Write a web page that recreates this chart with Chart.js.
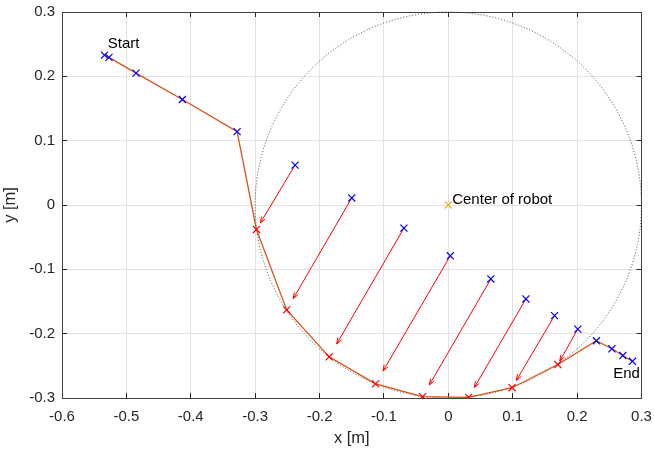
<!DOCTYPE html>
<html>
<head>
<meta charset="utf-8">
<script src="https://cdn.jsdelivr.net/npm/chart.js@4"></script>
<style>
  html, body { margin: 0; padding: 0; background: #fff; }
  #wrap { width: 654px; height: 450px; position: relative; }
</style>
</head>
<body>
<div id="wrap"><canvas id="plot"></canvas></div>
<script>
// --- data ---
const xTicks = [-0.6, -0.5, -0.4, -0.3, -0.2, -0.1, 0, 0.1, 0.2, 0.3];
const xTickLabels = ['-0.6', '-0.5', '-0.4', '-0.3', '-0.2', '-0.1', '0', '0.1', '0.2', '0.3'];
const yTicks = [-0.3, -0.2, -0.1, 0, 0.1, 0.2, 0.3];
const yTickLabels = ['-0.3', '-0.2', '-0.1', '0', '0.1', '0.2', '0.3'];

// path before the robot reaches the circle (blue)
const startX = [-0.534, -0.527, -0.485, -0.413, -0.328];
const startY = [0.233, 0.2295, 0.205, 0.164, 0.114];
// measured points (blue, arrow tails)
const measuredX = [-0.238, -0.150, -0.069, 0.003, 0.066, 0.1205, 0.165, 0.201];
const measuredY = [0.062, 0.011, -0.036, -0.079, -0.115, -0.146, -0.172, -0.193];
// corrected points on the circle (red)
const correctedX = [-0.298, -0.251, -0.185, -0.113, -0.040, 0.0315, 0.099, 0.170];
const correctedY = [-0.038, -0.163, -0.236, -0.278, -0.298, -0.299, -0.284, -0.248];
// path after leaving the circle (blue)
const endX = [0.230, 0.254, 0.271, 0.286];
const endY = [-0.211, -0.2235, -0.234, -0.243];

const robotCenter = [0, 0];
const robotRadius = 0.3;
const quiverScale = 0.9;   // matlab quiver autoscale

const labelTexts = ['Start', 'Center of robot', 'End'];
const labelX = [-0.529, 0.006, 0.256];
const labelY = [0.251, 0.008, -0.263];

const FONT = "'Liberation Sans', Arial, Helvetica, sans-serif";
Chart.defaults.font.family = FONT;
Chart.defaults.color = '#262626';

const pts = (xs, ys) => xs.map((x, i) => ({ x: x, y: ys[i] }));

const pathPts = pts(startX.concat(correctedX, endX), startY.concat(correctedY, endY));

// one dataset per arrow: tail -> scaled head
const arrowSets = measuredX.map((mx, i) => ({
    label: 'arrow' + i,
    data: [
        { x: mx, y: measuredY[i] },
        { x: mx + quiverScale * (correctedX[i] - mx), y: measuredY[i] + quiverScale * (correctedY[i] - measuredY[i]) }
    ],
    showLine: true,
    borderColor: '#ff0000',
    borderWidth: 1,
    pointRadius: 0,
    isArrow: true
}));

const markerStyle = (color) => ({
    showLine: false,
    pointStyle: 'crossRot',
    pointRadius: 5,
    pointBorderWidth: 1.2,
    pointBorderColor: color,
    pointBackgroundColor: color,
    borderColor: color
});

// dotted robot outline + arrow heads + text labels
const extrasPlugin = {
    id: 'extras',
    beforeDatasetsDraw(chart) {
        const { ctx, scales: { x, y } } = chart;
        const cx = x.getPixelForValue(robotCenter[0]);
        const cy = y.getPixelForValue(robotCenter[1]);
        const rx = x.getPixelForValue(robotCenter[0] + robotRadius) - cx;
        const ry = cy - y.getPixelForValue(robotCenter[1] + robotRadius);
        ctx.save();
        ctx.setLineDash([1, 2]);
        ctx.strokeStyle = '#333';
        ctx.lineWidth = 0.9;
        ctx.beginPath();
        ctx.ellipse(cx, cy, rx, ry, 0, 0, Math.PI * 2);
        ctx.stroke();
        ctx.restore();
    },
    afterDatasetsDraw(chart) {
        const { ctx, scales: { x, y } } = chart;
        ctx.save();
        // arrow heads
        ctx.strokeStyle = '#ff0000';
        ctx.lineWidth = 1;
        chart.data.datasets.forEach((ds, i) => {
            if (!ds.isArrow) return;
            const p = chart.getDatasetMeta(i).data;
            const ang = Math.atan2(p[1].y - p[0].y, p[1].x - p[0].x);
            const len = 6.5, spread = 0.35;
            ctx.beginPath();
            ctx.moveTo(p[1].x - len * Math.cos(ang - spread), p[1].y - len * Math.sin(ang - spread));
            ctx.lineTo(p[1].x, p[1].y);
            ctx.lineTo(p[1].x - len * Math.cos(ang + spread), p[1].y - len * Math.sin(ang + spread));
            ctx.stroke();
        });
        // text labels
        ctx.fillStyle = '#000';
        ctx.font = '15px ' + FONT;
        ctx.textAlign = 'left';
        ctx.textBaseline = 'middle';
        labelTexts.forEach((t, i) => {
            ctx.fillText(t, x.getPixelForValue(labelX[i]), y.getPixelForValue(labelY[i]));
        });
        ctx.restore();
    }
};

const gridOpts = { color: '#e3e3e3', lineWidth: 1, tickColor: '#262626', tickLength: -5, drawTicks: true };
const borderOpts = { color: '#404040', width: 1 };

// fixed axes box, no extra label overhang padding
const fixBox = (w, h) => ax => {
    if (w !== null) ax.width = w;
    if (h !== null) ax.height = h;
    ax.paddingLeft = 0; ax.paddingRight = 0; ax.paddingTop = 0; ax.paddingBottom = 0;
};

new Chart(document.getElementById('plot'), {
    type: 'scatter',
    data: {
        datasets: [
            { label: 'path', data: pathPts, showLine: true, borderColor: '#D95319', borderWidth: 1.3, pointRadius: 0, order: 5 },
            ...arrowSets.map(a => Object.assign(a, { order: 4 })),
            Object.assign({ label: 'start', data: pts(startX, startY), order: 1 }, markerStyle('#0000ff')),
            Object.assign({ label: 'measured', data: pts(measuredX, measuredY), order: 1 }, markerStyle('#0000ff')),
            Object.assign({ label: 'end', data: pts(endX, endY), order: 1 }, markerStyle('#0000ff')),
            Object.assign({ label: 'corrected', data: pts(correctedX, correctedY), order: 1 }, markerStyle('#ff0000')),
            Object.assign({ label: 'center', data: [{ x: robotCenter[0], y: robotCenter[1] }], order: 1 }, markerStyle('#EDB120'))
        ]
    },
    options: {
        responsive: true,
        maintainAspectRatio: false,
        animation: false,
        layout: { padding: 0 },
        plugins: { legend: { display: false }, tooltip: { enabled: false } },
        scales: {
            x: {
                type: 'linear', position: 'bottom', min: -0.6, max: 0.3,
                afterBuildTicks: ax => { ax.ticks = xTicks.map(v => ({ value: v })); },
                afterFit: fixBox(null, 52),
                ticks: { callback: (v, i) => xTickLabels[i], font: { size: 15 }, padding: 15, maxRotation: 0 },
                grid: gridOpts, border: borderOpts,
                title: { display: true, text: 'x [m]', font: { size: 16.5 }, padding: { top: 0, bottom: 2 } }
            },
            y: {
                type: 'linear', position: 'left', min: -0.3, max: 0.3,
                afterBuildTicks: ax => { ax.ticks = yTicks.map(v => ({ value: v })); },
                afterFit: fixBox(62, null),
                ticks: { callback: (v, i) => yTickLabels[i], font: { size: 15 }, padding: 12 },
                grid: gridOpts, border: borderOpts,
                title: { display: true, text: 'y [m]', font: { size: 16.5 }, padding: { top: 1, bottom: 0 } }
            },
            x2: {
                type: 'linear', position: 'top', min: -0.6, max: 0.3,
                afterBuildTicks: ax => { ax.ticks = xTicks.map(v => ({ value: v })); },
                afterFit: fixBox(null, 12),
                ticks: { display: false },
                grid: Object.assign({}, gridOpts, { drawOnChartArea: false }), border: borderOpts
            },
            y2: {
                type: 'linear', position: 'right', min: -0.3, max: 0.3,
                afterBuildTicks: ax => { ax.ticks = yTicks.map(v => ({ value: v })); },
                afterFit: fixBox(12.5, null),
                ticks: { display: false },
                grid: Object.assign({}, gridOpts, { drawOnChartArea: false }), border: borderOpts
            }
        }
    },
    plugins: [extrasPlugin]
});
</script>
</body>
</html>
